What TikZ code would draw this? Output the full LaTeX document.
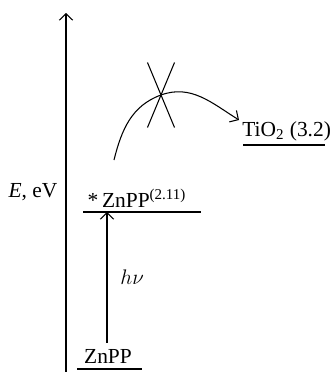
\documentclass[tikz,border=0pt]{standalone}
\usepackage{fontspec}
\setmainfont{Liberation Serif}
\usepackage{tikz}
\usetikzlibrary{arrows.meta,shapes.misc}

\begin{document}
\begin{tikzpicture}[
    x=0.02cm, y=-0.02cm,
    font=\fontsize{12.2}{14}\selectfont,
    arrow/.style={-{Straight Barb[length=1.3mm, width=2.7mm]}, line width=0.6pt},
    level/.style={line width=0.6pt}
]
\useasboundingbox (0,0) rectangle (331,372);
% energy axis
\coordinate (axbot) at (66,372);
\coordinate (axtop) at (66,13);
\draw[arrow] (axbot) -- (axtop);
\node[anchor=base] (elabel) at (33,197) {\textit{E}, eV};
% levels
\node[anchor=base] (gnd) at (108,363) {ZnPP};
\draw[level] (77,369) coordinate (gndL) -- (142,369) coordinate (gndR);
\node[anchor=base] (exc) at (137,207) {*\,ZnPP\textsuperscript{(2.11)}};
\draw[level] (83,212) coordinate (excL) -- (201,212) coordinate (excR);
\coordinate (exclevel) at (107,212);
\node[anchor=base west, inner sep=0pt] (tio) at (242,136) {TiO\textsubscript{2} (3.2)};
\draw[level] (243,145) coordinate (tioL) -- (325,145) coordinate (tioR);
% excitation
\draw[arrow] (gnd.north -| exclevel) -- node[right=4pt] {$h\nu$} (exclevel);
% blocked transfer
\node[cross out, draw, line width=0.6pt, inner sep=0pt,
      minimum width=0.52cm, minimum height=1.28cm] (block) at (161,95) {};
\coordinate (hopstart) at (114,160);
\coordinate (hopend) at (239,120);
\draw[arrow] (hopstart) to[out=76,in=200] (block.center) to[out=20,in=148] (hopend);
\end{tikzpicture}
\end{document}
